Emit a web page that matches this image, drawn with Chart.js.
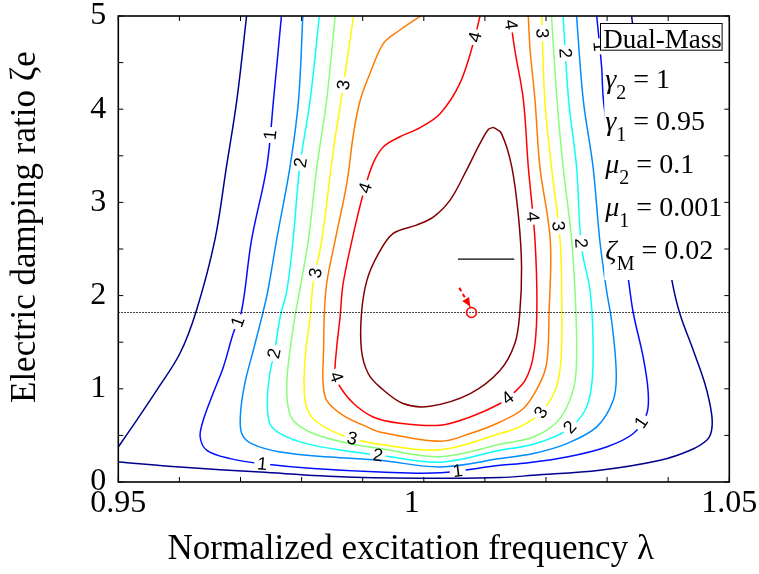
<!DOCTYPE html>
<html>
<head>
<meta charset="utf-8">
<script src="https://cdn.jsdelivr.net/npm/chart.js@4/dist/chart.umd.min.js"></script>
<style>
html,body{margin:0;padding:0;background:#fff;}
canvas{display:block;}
</style>
</head>
<body>
<canvas id="chart" width="759" height="574"></canvas>
<script>
// ---------------- data ----------------
const xTickValues = [0.95, 1, 1.05];
const xTickLabels = ['0.95', '1   ', '1.05'];
const yTickValues = [0, 1, 2, 3, 4, 5];
const yTickLabels = ['0', '1', '2', '3', '4', '5'];
const xMinorTicks = [0.95, 0.96, 0.97, 0.98, 0.99, 1.00, 1.01, 1.02, 1.03, 1.04, 1.05];
const yMinorTicks = [0, 0.5, 1, 1.5, 2, 2.5, 3, 3.5, 4, 4.5, 5];

const contourLevels = [0.5, 1, 1.5, 2, 2.5, 3, 3.5, 4, 4.5];
const contourColors = ['#00008f', '#000dff', '#008cff', '#0afff5', '#87ff78', '#fff800', '#ff7a00', '#ff0000', '#800000'];

// contour level 0.5 (two pieces)
const contour05a = [[0.9710,5.0],[0.9694,4.098],[0.9677,3.382],[0.9658,2.595],[0.9628,1.843],[0.9601,1.381],[0.9563,0.985],[0.9530,0.662],[0.9500,0.376]];
const contour05b = [[0.9500,0.215],[0.9601,0.161],[0.9732,0.107],[0.9874,0.054],[1.0027,0.040],[1.0125,0.047],[1.0179,0.072],[1.0288,0.126],[1.0387,0.233],[1.0436,0.340],[1.0463,0.448],[1.0471,0.555],[1.0471,0.734],[1.0460,1.056],[1.0441,1.414],[1.0419,1.808],[1.0406,2.166],[1.0370,3.561],[1.0340,5.0]];
// contour level 1
const contour10 = [[0.9767,5.0],[0.9754,4.098],[0.9743,3.382],[0.9718,2.595],[0.9702,1.843],[0.9688,1.593],[0.9672,1.235],[0.9655,0.949],[0.9639,0.662],[0.9634,0.483],[0.9645,0.340],[0.9683,0.251],[0.9732,0.198],[0.9819,0.144],[0.9928,0.107],[1.0027,0.099],[1.0125,0.179],[1.0168,0.204],[1.0234,0.268],[1.0299,0.376],[1.0343,0.520],[1.0365,0.734],[1.0367,0.985],[1.0359,1.342],[1.0343,1.808],[1.0335,2.166],[1.0313,3.132],[1.0294,4.098],[1.0291,4.456],[1.0283,5.0]];
// contour level 1.5
const contour15 = [[0.9802,5.0],[0.9795,4.098],[0.9781,3.382],[0.9759,2.595],[0.9745,2.058],[0.9735,1.772],[0.9721,1.414],[0.9707,1.056],[0.9700,0.734],[0.9702,0.520],[0.9718,0.412],[0.9765,0.322],[0.9846,0.268],[0.9928,0.233],[1.0027,0.162],[1.0125,0.251],[1.0179,0.305],[1.0234,0.412],[1.0283,0.591],[1.0310,0.877],[1.0315,1.164],[1.0308,1.701],[1.0299,2.058],[1.0288,2.595],[1.0277,3.382],[1.0261,4.098],[1.0250,5.0]];
// contour level 2
const contour20 = [[0.9829,5.0],[0.9814,4.098],[0.9797,3.382],[0.9786,2.595],[0.9776,2.058],[0.9765,1.772],[0.9756,1.414],[0.9748,1.164],[0.9744,0.877],[0.9748,0.627],[0.9765,0.520],[0.9808,0.412],[0.9874,0.333],[0.9928,0.287],[1.0027,0.212],[1.0125,0.340],[1.0179,0.405],[1.0234,0.555],[1.0264,0.770],[1.0275,1.056],[1.0277,1.521],[1.0272,2.058],[1.0258,2.523],[1.0250,3.382],[1.0237,4.098],[1.0228,5.0]];
// contour level 2.5
const contour25 = [[0.9855,5.0],[0.9841,4.098],[0.9825,3.382],[0.9811,2.595],[0.9797,2.058],[0.9789,1.772],[0.9781,1.414],[0.9776,1.092],[0.9777,0.842],[0.9786,0.662],[0.9819,0.520],[0.9874,0.419],[0.9928,0.359],[1.0027,0.271],[1.0125,0.405],[1.0179,0.483],[1.0218,0.644],[1.0239,0.877],[1.0249,1.164],[1.0249,1.808],[1.0242,2.595],[1.0228,3.382],[1.0218,4.098],[1.0209,5.0]];
// contour level 3
const contour30 = [[0.9885,5.0],[0.9868,4.241],[0.9852,3.561],[0.9833,2.595],[0.9819,2.130],[0.9814,1.772],[0.9807,1.414],[0.9804,1.056],[0.9808,0.805],[0.9825,0.644],[0.9874,0.483],[0.9928,0.405],[1.0027,0.346],[1.0125,0.520],[1.0157,0.591],[1.0190,0.734],[1.0215,0.985],[1.0224,1.271],[1.0226,1.808],[1.0223,2.595],[1.0209,3.382],[1.0198,4.098],[1.0193,5.0]];
// contour level 3.5
const contour35 = [[0.9995,5.0],[0.9961,4.850],[0.9934,4.707],[0.9912,4.385],[0.9896,4.098],[0.9885,3.741],[0.9874,3.204],[0.9855,2.595],[0.9841,2.130],[0.9837,1.772],[0.9836,1.414],[0.9835,1.092],[0.9841,0.877],[0.9868,0.716],[0.9907,0.591],[0.9928,0.537],[1.0027,0.437],[1.0076,0.520],[1.0125,0.644],[1.0163,0.788],[1.0187,1.020],[1.0201,1.271],[1.0205,1.808],[1.0207,2.595],[1.0190,3.382],[1.0182,4.098],[1.0174,4.635],[1.0171,5.0]];
// contour level 4
const contour40 = [[1.0092,5.0],[1.0081,4.707],[1.0059,4.277],[1.0027,3.955],[0.9994,3.803],[0.9961,3.704],[0.9934,3.597],[0.9917,3.419],[0.9901,3.096],[0.9885,2.667],[0.9868,2.130],[0.9863,1.772],[0.9857,1.414],[0.9855,1.164],[0.9863,1.020],[0.9885,0.842],[0.9917,0.698],[0.9961,0.630],[1.0027,0.609],[1.0076,0.698],[1.0125,0.842],[1.0146,0.949],[1.0166,1.092],[1.0179,1.342],[1.0185,1.808],[1.0182,2.595],[1.0171,3.382],[1.0163,4.098],[1.0149,4.635],[1.0141,5.0]];
// contour level 4.5 (closed)
const contour45 = [[1.0114,3.805],[1.0127,3.741],[1.0144,3.382],[1.0155,2.845],[1.0160,2.308],[1.0157,1.808],[1.0149,1.486],[1.0125,1.199],[1.0076,0.949],[1.0010,0.813],[0.9966,0.842],[0.9928,1.020],[0.9909,1.164],[0.9898,1.414],[0.9898,1.808],[0.9907,2.166],[0.9926,2.452],[0.9950,2.667],[0.9988,2.756],[1.0016,2.845],[1.0043,3.024],[1.0070,3.347],[1.0092,3.633],[1.0106,3.784],[1.0114,3.805]];

const contourPieces = [[0.5, contour05a], [0.5, contour05b], [1, contour10], [1.5, contour15], [2, contour20], [2.5, contour25], [3, contour30], [3.5, contour35], [4, contour40], [4.5, contour45]];

// inline contour labels: [level, lambda, zeta_e]
const contourLabels = [
  [1, 0.9751, 3.722], [1, 0.9696, 1.718], [1, 0.9735, 0.161], [1, 1.0056, 0.093], [1, 1.0359, 0.627], [1, 1.0277, 4.667],
  [2, 0.9806, 3.419], [2, 0.9756, 1.379], [2, 0.9923, 0.198], [2, 1.0242, 0.573], [2, 1.0228, 4.600], [2, 1.0253, 2.560],
  [3, 0.9871, 4.259], [3, 0.9826, 2.238], [3, 0.9882, 0.448], [3, 1.0190, 0.752], [3, 1.0209, 2.738], [3, 1.0187, 4.814],
  [4, 0.9907, 3.150], [4, 0.9857, 1.127], [4, 1.0081, 4.778], [4, 1.0138, 4.903], [4, 1.0177, 2.845], [4, 1.0136, 0.913]
];

const zetaLine = 1.819;                 // dotted horizontal line
const operatingPoint = [1.0078, 1.819]; // red circle
const arrowStart = [1.0058, 2.083];
const arrowTip = [1.0076, 1.881];
const markerSegment = [[1.0056, 2.391], [1.0148, 2.391]];

const boxTitle = 'Dual-Mass';
const paramSymbols = ['γ', 'γ', 'μ', 'μ', 'ζ'];
const paramSubs = ['2', '1', '2', '1', 'M'];
const paramValues = ['1', '0.95', '0.1', '0.001', '0.02'];

const xTitle = 'Normalized excitation frequency λ   ';
const yTitle = '     Electric damping ratio ζe';

// ---------------- styles ----------------
const serif = '"Liberation Serif","Times New Roman",Times,serif';
const sans = '"Liberation Sans",Arial,Helvetica,sans-serif';
const labelFont = '18px ' + sans;

function colorFor(lev) { return contourColors[contourLevels.indexOf(lev)]; }
function toPx(chart, p) { return [chart.scales.x.getPixelForValue(p[0]), chart.scales.y.getPixelForValue(p[1])]; }

function placeLabels(chart) {
  const ctx = chart.ctx;
  ctx.save();
  ctx.font = labelFont;
  const out = [];
  for (const [lev, lx, ly] of contourLabels) {
    const piece = contourPieces.find(p => p[0] === lev)[1];
    const pts = piece.map(p => toPx(chart, p));
    const L = toPx(chart, [lx, ly]);
    let best = null, bd = Infinity;
    for (let i = 0; i < pts.length - 1; i++) {
      const [x1, y1] = pts[i], [x2, y2] = pts[i + 1];
      const dx = x2 - x1, dy = y2 - y1, len2 = dx * dx + dy * dy;
      let t = len2 ? ((L[0] - x1) * dx + (L[1] - y1) * dy) / len2 : 0;
      t = Math.max(0, Math.min(1, t));
      const qx = x1 + t * dx, qy = y1 + t * dy;
      const d = (qx - L[0]) ** 2 + (qy - L[1]) ** 2;
      if (d < bd) { bd = d; best = { qx, qy, dx, dy }; }
    }
    let a = Math.atan2(best.dy, best.dx);
    if (a > Math.PI / 2) a -= Math.PI;
    if (a <= -Math.PI / 2) a += Math.PI;
    out.push({ lev, x: best.qx, y: best.qy, a, w: ctx.measureText(String(lev)).width });
  }
  ctx.restore();
  return out;
}

const decorPlugin = {
  id: 'decor',
  beforeDraw(chart) {
    const c = chart.ctx;
    c.save(); c.fillStyle = '#fff'; c.fillRect(0, 0, chart.width, chart.height); c.restore();
  },
  beforeDatasetsDraw(chart) { chart.$labels = placeLabels(chart); },
  beforeDatasetDraw(chart, args) {
    const ds = chart.data.datasets[args.index];
    if (ds.level === undefined || !chart.$labels) return;
    const labs = chart.$labels.filter(l => l.lev === ds.level);
    if (!labs.length) return;
    const ctx = chart.ctx;
    ctx.save();
    ctx.beginPath();
    ctx.rect(0, 0, chart.width, chart.height);
    for (const l of labs) {
      const hw = l.w / 2 + 3, hh = 9, ca = Math.cos(l.a), sa = Math.sin(l.a);
      const corners = [[-hw, -hh], [hw, -hh], [hw, hh], [-hw, hh]].map(([u, v]) => [l.x + u * ca - v * sa, l.y + u * sa + v * ca]);
      ctx.moveTo(corners[0][0], corners[0][1]);
      for (let k = 1; k < 4; k++) ctx.lineTo(corners[k][0], corners[k][1]);
      ctx.closePath();
    }
    ctx.clip('evenodd');
    chart.$clipped = true;
  },
  afterDatasetDraw(chart) {
    if (chart.$clipped) { chart.ctx.restore(); chart.$clipped = false; }
  },
  afterDatasetsDraw(chart) {
    const ctx = chart.ctx, ca = chart.chartArea;
    const xs = chart.scales.x, ys = chart.scales.y;

    // contour label text
    ctx.save();
    ctx.font = labelFont;
    ctx.fillStyle = '#000';
    ctx.textAlign = 'center';
    ctx.textBaseline = 'middle';
    for (const l of chart.$labels || []) {
      ctx.save();
      ctx.translate(l.x, l.y);
      ctx.rotate(l.a);
      ctx.fillText(String(l.lev), 0, 1);
      ctx.restore();
    }
    ctx.restore();

    // arrow head
    const am = chart.getDatasetMeta(1).data;
    if (am.length === 2) {
      const x0 = am[0].x, y0 = am[0].y, x1 = am[1].x, y1 = am[1].y;
      const ang = Math.atan2(y1 - y0, x1 - x0), L = 9, W = 4;
      ctx.save();
      ctx.fillStyle = '#ff0000';
      ctx.beginPath();
      ctx.moveTo(x1, y1);
      ctx.lineTo(x1 - L * Math.cos(ang) + W * Math.sin(ang), y1 - L * Math.sin(ang) - W * Math.cos(ang));
      ctx.lineTo(x1 - L * Math.cos(ang) - W * Math.sin(ang), y1 - L * Math.sin(ang) + W * Math.cos(ang));
      ctx.closePath();
      ctx.fill();
      ctx.restore();
    }

    // parameter text block
    ctx.save();
    ctx.fillStyle = '#fff';
    ctx.fillRect(ca.right - 125, ca.top + 34, 120, 230);
    ctx.fillRect(ca.right - 129.3, ca.top + 7.3, 121.6, 26.7);
    ctx.strokeStyle = '#000';
    ctx.lineWidth = 1;
    ctx.strokeRect(Math.round(ca.right - 129.3) + 0.5, Math.round(ca.top + 7.3) + 0.5, 121.6, 26.7);
    ctx.fillStyle = '#000';
    ctx.textBaseline = 'alphabetic';
    ctx.textAlign = 'left';
    ctx.font = '27px ' + serif;
    ctx.fillText(boxTitle, ca.right - 126, ca.top + 32);
    const rowBase = [72, 114, 157, 200, 243];
    for (let i = 0; i < paramSymbols.length; i++) {
      let x = ca.right - 124;
      const by = ca.top + rowBase[i];
      ctx.font = 'italic 28px ' + serif;
      ctx.fillText(paramSymbols[i], x, by);
      x += ctx.measureText(paramSymbols[i]).width;
      ctx.font = '20px ' + serif;
      ctx.fillText(paramSubs[i], x, by + 11);
      x += ctx.measureText(paramSubs[i]).width;
      ctx.font = '28px ' + serif;
      ctx.fillText(' = ' + paramValues[i], x, by);
    }
    ctx.restore();

    // frame and inward ticks
    ctx.save();
    ctx.strokeStyle = '#000';
    ctx.lineWidth = 1;
    ctx.beginPath();
    for (const v of xMinorTicks) {
      const p = xs.getPixelForValue(v);
      ctx.moveTo(p, ca.bottom); ctx.lineTo(p, ca.bottom - 5);
      ctx.moveTo(p, ca.top); ctx.lineTo(p, ca.top + 5);
    }
    for (const v of yMinorTicks) {
      const p = ys.getPixelForValue(v);
      ctx.moveTo(ca.left, p); ctx.lineTo(ca.left + 5, p);
      ctx.moveTo(ca.right, p); ctx.lineTo(ca.right - 5, p);
    }
    ctx.stroke();
    ctx.lineWidth = 1.6;
    ctx.strokeRect(ca.left, ca.top, ca.right - ca.left, ca.bottom - ca.top);
    ctx.restore();
  }
};

// ---------------- datasets ----------------
const datasets = [];
datasets.push({ label: 'operating point', data: [{ x: operatingPoint[0], y: operatingPoint[1] }], showLine: false,
  pointRadius: 5, pointBorderColor: '#ff0000', pointBackgroundColor: 'rgba(255,255,255,0)', pointBorderWidth: 1.5, order: 0 });
datasets.push({ label: 'arrow', data: [arrowStart, arrowTip].map(([x, y]) => ({ x, y })), showLine: true,
  borderColor: '#ff0000', borderWidth: 2, borderDash: [4, 3], pointRadius: 0, order: 1 });
datasets.push({ label: 'marker', data: markerSegment.map(([x, y]) => ({ x, y })), showLine: true,
  borderColor: '#000', borderWidth: 1.3, pointRadius: 0, order: 2 });
datasets.push({ label: 'zeta line', data: [{ x: 0.95, y: zetaLine }, { x: 1.05, y: zetaLine }], showLine: true,
  borderColor: '#000', borderWidth: 1, borderDash: [1.5, 1.5], pointRadius: 0, order: 3 });
contourPieces.forEach(([lev, pts]) => {
  datasets.push({ label: 'level ' + lev, level: lev, data: pts.map(([x, y]) => ({ x, y })), showLine: true,
    borderColor: colorFor(lev), borderWidth: 1.5, pointRadius: 0, tension: 0.35, order: 4 });
});

new Chart(document.getElementById('chart'), {
  type: 'scatter',
  data: { datasets },
  options: {
    responsive: false,
    animation: false,
    devicePixelRatio: 1,
    events: [],
    layout: { padding: { top: 16, right: 29.7, left: 0, bottom: 0 } },
    plugins: { legend: { display: false }, tooltip: { enabled: false } },
    scales: {
      x: {
        type: 'linear', min: 0.95, max: 1.05,
        afterBuildTicks: s => { s.ticks = xTickValues.map(v => ({ value: v })); },
        afterFit: s => { s.height = 92; s.paddingLeft = 0; s.paddingRight = 0; },
        ticks: { callback: (v, i) => xTickLabels[i], font: { family: serif, size: 32 }, color: '#000', padding: 2, maxRotation: 0, autoSkip: false },
        grid: { display: false, drawTicks: false },
        border: { display: false },
        title: { display: true, text: xTitle, font: { family: serif, size: 35 }, color: '#000', padding: { top: 0, bottom: 3 } }
      },
      y: {
        type: 'linear', min: 0, max: 5,
        afterBuildTicks: s => { s.ticks = yTickValues.map(v => ({ value: v })); },
        afterFit: s => { s.width = 118.3; s.paddingTop = 0; s.paddingBottom = 0; },
        ticks: { callback: (v, i) => yTickLabels[i], font: { family: serif, size: 32, lineHeight: 1 }, color: '#000', padding: 12 },
        grid: { display: false, drawTicks: false },
        border: { display: false },
        title: { display: true, text: yTitle, font: { family: serif, size: 35 }, color: '#000', padding: { top: 5, bottom: 0 } }
      }
    }
  },
  plugins: [decorPlugin]
});
</script>
</body>
</html>
